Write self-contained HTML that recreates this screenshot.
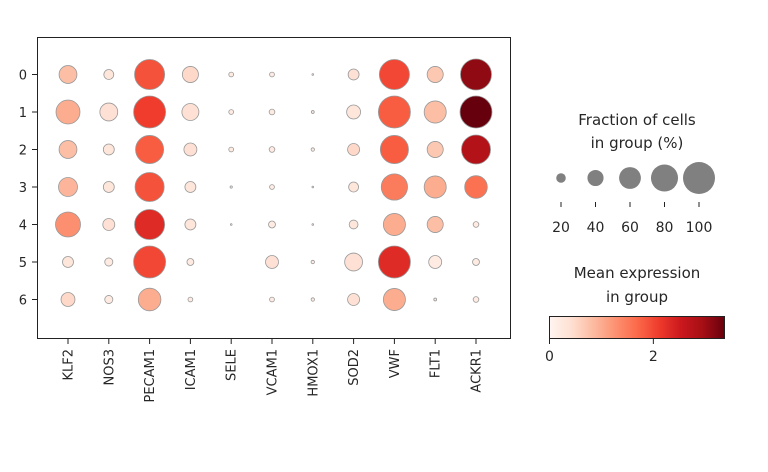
<!DOCTYPE html>
<html><head><meta charset="utf-8"><style>
html,body{margin:0;padding:0;background:#fff;}
svg text{font-family:"DejaVu Sans","Liberation Sans",sans-serif;fill:#262626;}
</style></head><body>
<svg id="chart" width="768" height="467" viewBox="0 0 768 467" xmlns="http://www.w3.org/2000/svg">
<defs>
<linearGradient id="reds" x1="0" x2="1" y1="0" y2="0">
<stop offset="0" stop-color="#fff5f0"/><stop offset="0.125" stop-color="#fee0d2"/><stop offset="0.25" stop-color="#fcbba1"/><stop offset="0.375" stop-color="#fc9272"/><stop offset="0.5" stop-color="#fb6a4a"/><stop offset="0.625" stop-color="#ef3b2c"/><stop offset="0.75" stop-color="#cb181d"/><stop offset="0.875" stop-color="#a50f15"/><stop offset="1" stop-color="#67000d"/>
</linearGradient>
</defs>
<rect x="37.5" y="37.5" width="473" height="301" fill="#fff" stroke="#222" stroke-width="1"/>
<g id="marks"></g>
<g id="axes"></g>
<text x="637" y="125" font-size="15" text-anchor="middle">Fraction of cells</text>
<text x="637" y="148" font-size="15" text-anchor="middle">in group (%)</text>
<g id="sizeLegend"></g>
<text x="637" y="278" font-size="15" text-anchor="middle">Mean expression</text>
<text x="637" y="302" font-size="15" text-anchor="middle">in group</text>
<rect x="549.5" y="316.5" width="175" height="22" fill="url(#reds)" stroke="#222" stroke-width="1"/>
<g id="cbTicks"></g>
</svg>
<script>
const genes = ["KLF2","NOS3","PECAM1","ICAM1","SELE","VCAM1","HMOX1","SOD2","VWF","FLT1","ACKR1"];
const groups = ["0","1","2","3","4","5","6"];
// fraction (%) per gene, rows = groups 0..6
const fracKLF2 = [46,68,46,50,72,24,33];
const fracNOS3 = [21,46,24,24,27,16,16];
const fracPECAM1 = [92,100,84,88,92,100,63];
const fracICAM1 = [40,43,30,24,24,13,8];
const fracSELE = [8,8,8,3,2,0,0];
const fracVCAM1 = [8,10,10,8,13,30,8];
const fracHMOX1 = [2,4,5,2,2,5,5];
const fracSOD2 = [24,33,27,21,18,46,27];
const fracVWF = [92,100,84,77,61,100,61];
const fracFLT1 = [40,61,40,61,40,30,4];
const fracACKR1 = [96,100,88,63,10,13,10];
// mean expression per gene
const exprKLF2 = [0.8,1.0,0.8,0.9,1.3,0.3,0.5];
const exprNOS3 = [0.3,0.4,0.3,0.3,0.4,0.2,0.2];
const exprPECAM1 = [1.9,2.1,1.8,1.9,2.3,2.0,1.0];
const exprICAM1 = [0.5,0.4,0.4,0.3,0.3,0.2,0.2];
const exprSELE = [0.2,0.2,0.2,0.2,0.2,0.2,0.2];
const exprVCAM1 = [0.2,0.2,0.2,0.2,0.2,0.4,0.2];
const exprHMOX1 = [0.2,0.2,0.2,0.2,0.2,0.2,0.2];
const exprSOD2 = [0.4,0.3,0.5,0.3,0.3,0.4,0.4];
const exprVWF = [2.0,1.8,1.8,1.5,1.0,2.3,1.0];
const exprFLT1 = [0.7,0.8,0.7,1.0,0.8,0.2,0.3];
const exprACKR1 = [3.1,3.37,2.8,1.6,0.2,0.2,0.2];
const legendFracs = [20,40,60,80,100];
const cbTickVals = [0,2];

const fracs = [fracKLF2,fracNOS3,fracPECAM1,fracICAM1,fracSELE,fracVCAM1,fracHMOX1,fracSOD2,fracVWF,fracFLT1,fracACKR1];
const exprs = [exprKLF2,exprNOS3,exprPECAM1,exprICAM1,exprSELE,exprVCAM1,exprHMOX1,exprSOD2,exprVWF,exprFLT1,exprACKR1];
const VMAX = 3.37;
const NS = "http://www.w3.org/2000/svg";
const xScale = i => 68 + i*40.8;
const yScale = j => 74.5 + j*37.5;
const rScale = f => 16*Math.pow(f/100,0.75);
const stops = ["#fff5f0","#fee0d2","#fcbba1","#fc9272","#fb6a4a","#ef3b2c","#cb181d","#a50f15","#67000d"];
function hex(h){return [1,3,5].map(k=>parseInt(h.substr(k,2),16));}
function cmap(v){
  let t=Math.max(0,Math.min(1,v/VMAX))*(stops.length-1);
  let i=Math.min(Math.floor(t),stops.length-2), f=t-i;
  let a=hex(stops[i]), b=hex(stops[i+1]);
  return "rgb("+a.map((c,k)=>Math.round(c+(b[k]-c)*f)).join(",")+")";
}
function mk(tag,attrs,parent){const e=document.createElementNS(NS,tag);for(const k in attrs)e.setAttribute(k,attrs[k]);parent.appendChild(e);return e;}
const marks=document.getElementById("marks");
genes.forEach((g,i)=>{
  groups.forEach((grp,j)=>{
    const f=fracs[i][j];
    if(f<=0)return;
    const c=mk("circle",{cx:xScale(i),cy:yScale(j),r:rScale(f),fill:cmap(exprs[i][j]),stroke:"#999","stroke-width":0.8},marks);
    
    
  });
});
const axes=document.getElementById("axes");
genes.forEach((g,i)=>{
  const x=xScale(i);
  const t=mk("line",{x1:x,x2:x,y1:338.5,y2:344,stroke:"#222","stroke-width":1},axes);
  
  
  const l=mk("text",{x:0,y:0,"font-size":13,"text-anchor":"end",transform:"translate("+(x+4.5)+",349) rotate(-90)"},axes);
  l.textContent=g;
  
  
});
groups.forEach((grp,j)=>{
  const y=yScale(j);
  const t=mk("line",{x1:32,x2:37.5,y1:y,y2:y,stroke:"#222","stroke-width":1},axes);
  
  
  const l=mk("text",{x:27,y:y+5,"font-size":13,"text-anchor":"end"},axes);
  l.textContent=grp;
  
  
});
const sl=document.getElementById("sizeLegend");
legendFracs.forEach((f,k)=>{
  const x=561+k*34.5;
  const c=mk("circle",{cx:x,cy:178,r:rScale(f),fill:"#808080"},sl);
  
  
  const t=mk("line",{x1:x,x2:x,y1:202,y2:207,stroke:"#222","stroke-width":1},sl);
  
  
  const l=mk("text",{x:x,y:232,"font-size":14,"text-anchor":"middle"},sl);
  l.textContent=f;
  
  
});
const cb=document.getElementById("cbTicks");
cbTickVals.forEach(v=>{
  const x=549.5+175*v/VMAX;
  const t=mk("line",{x1:x,x2:x,y1:338.5,y2:344,stroke:"#222","stroke-width":1},cb);
  
  
  const l=mk("text",{x:x,y:361,"font-size":14,"text-anchor":"middle"},cb);
  l.textContent=v;
  
  
});
</script>
</body></html>
